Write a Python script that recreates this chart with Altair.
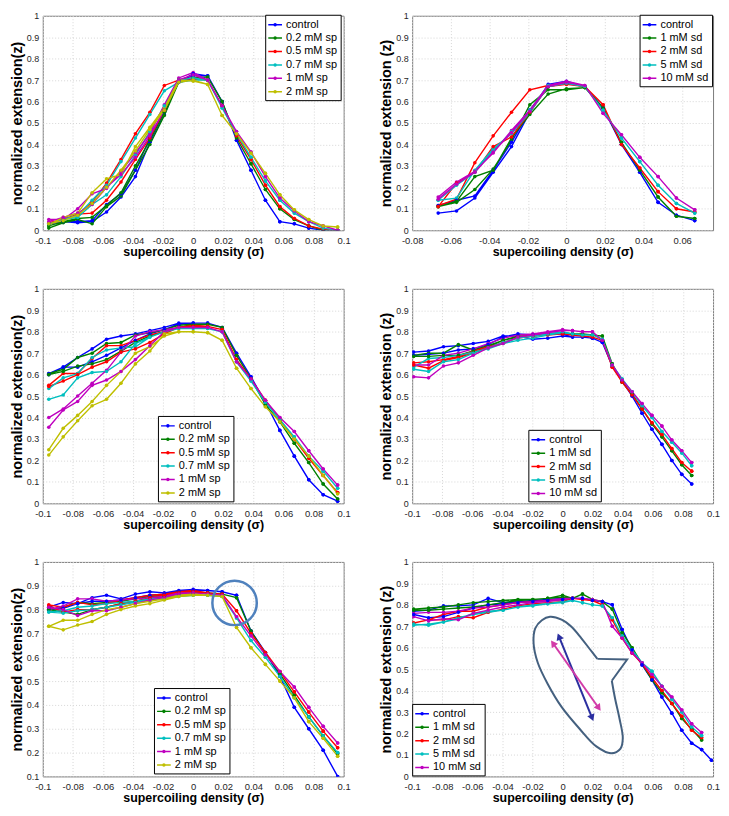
import math
import altair as alt
import pandas as pd

FONT = "Liberation Sans"
W, H = 303, 216

# ---------------- x grids (supercoiling density) ----------------
SIG_A = [-0.096, -0.0864, -0.0768, -0.0672, -0.0576, -0.048, -0.0384, -0.0288, -0.0192, -0.0096, 0.0,
         0.0096, 0.0192, 0.0288, 0.0384, 0.048, 0.0576, 0.0672, 0.0768, 0.0864, 0.096]
SIG_B = [-0.0665, -0.057, -0.0475, -0.038, -0.0285, -0.019, -0.0095, 0.0,
         0.0095, 0.019, 0.0285, 0.038, 0.0475, 0.057, 0.0665]
SIG_C = [-0.099, -0.0891, -0.0792, -0.0693, -0.0594, -0.0495, -0.0396, -0.0297, -0.0198, -0.0099, 0.0,
         0.0066, 0.0132, 0.0198, 0.0264, 0.033, 0.0396, 0.0462, 0.0528, 0.0594, 0.066, 0.0726,
         0.0792, 0.0858, 0.0924, 0.099]

SP_NAMES = ["control", "0.2 mM sp", "0.5 mM sp", "0.7 mM sp", "1 mM sp", "2 mM sp"]
SD_NAMES = ["control", "1 mM sd", "2 mM sd", "5 mM sd", "10 mM sd"]
SP_COLORS = ["#0000FF", "#008000", "#FF0000", "#00BFBF", "#BF00BF", "#BFBF00"]
SD_COLORS = ["#0000FF", "#008000", "#FF0000", "#00BFBF", "#BF00BF"]

X_TICKS_FULL = [-0.1, -0.08, -0.06, -0.04, -0.02, 0, 0.02, 0.04, 0.06, 0.08, 0.1]
X_TICKS_P2 = [-0.08, -0.06, -0.04, -0.02, 0, 0.02, 0.04, 0.06]
Y_TICKS = [0, 0.1, 0.2, 0.3, 0.4, 0.5, 0.6, 0.7, 0.8, 0.9, 1]
Y_TICKS_P5 = [0.1, 0.2, 0.3, 0.4, 0.5, 0.6, 0.7, 0.8, 0.9, 1]

# ---------------- panel 1 (spermine, low force) ----------------
P1_UP = [
    [0.03, 0.04, 0.035, 0.04, 0.085, 0.155, 0.25, 0.41, 0.54, 0.70, 0.72, 0.72, 0.60, 0.42, 0.28, 0.14, 0.04, 0.03, 0.01, 0.0, 0.0],
    [0.01, 0.035, 0.05, 0.03, 0.11, 0.16, 0.28, 0.40, 0.535, 0.69, 0.705, 0.715, 0.60, 0.43, 0.31, 0.19, 0.10, 0.05, 0.02, 0.0, 0.0],
    [0.03, 0.05, 0.07, 0.13, 0.22, 0.33, 0.45, 0.55, 0.675, 0.70, 0.71, 0.70, 0.58, 0.44, 0.33, 0.21, 0.11, 0.055, 0.02, 0.005, 0.0],
    [0.03, 0.05, 0.07, 0.14, 0.21, 0.32, 0.43, 0.54, 0.65, 0.69, 0.70, 0.70, 0.57, 0.45, 0.34, 0.23, 0.14, 0.08, 0.04, 0.01, 0.0],
    [0.05, 0.05, 0.10, 0.17, 0.195, 0.275, 0.36, 0.45, 0.585, 0.71, 0.735, 0.70, 0.58, 0.46, 0.365, 0.25, 0.15, 0.09, 0.04, 0.02, 0.0],
    [0.025, 0.06, 0.08, 0.175, 0.24, 0.26, 0.39, 0.48, 0.57, 0.70, 0.695, 0.68, 0.535, 0.45, 0.36, 0.265, 0.165, 0.095, 0.05, 0.02, 0.015],
]
P1_DN = [
    [0.03, 0.04, 0.04, 0.045, 0.12, 0.17, 0.28, 0.43, 0.56, 0.69, 0.73],
    [0.02, 0.04, 0.055, 0.06, 0.115, 0.175, 0.30, 0.42, 0.55, 0.70, 0.71],
    [0.035, 0.05, 0.075, 0.08, 0.14, 0.225, 0.33, 0.43, 0.56, 0.70, 0.705],
    [0.03, 0.05, 0.06, 0.12, 0.165, 0.25, 0.35, 0.46, 0.58, 0.70, 0.71],
    [0.04, 0.06, 0.08, 0.12, 0.20, 0.26, 0.34, 0.44, 0.56, 0.70, 0.725],
    [0.03, 0.045, 0.07, 0.125, 0.20, 0.28, 0.37, 0.47, 0.56, 0.69, 0.70],
]

# ---------------- panel 2 (spermidine, low force) ----------------
P2_UP = [
    [0.08, 0.09, 0.15, 0.27, 0.39, 0.55, 0.68, 0.695, 0.67, 0.57, 0.40, 0.27, 0.13, 0.07, 0.045],
    [0.11, 0.13, 0.19, 0.285, 0.42, 0.585, 0.655, 0.655, 0.665, 0.57, 0.41, 0.28, 0.155, 0.065, 0.055],
    [0.115, 0.145, 0.315, 0.44, 0.55, 0.655, 0.675, 0.685, 0.67, 0.585, 0.40, 0.29, 0.18, 0.10, 0.085],
    [0.14, 0.15, 0.28, 0.38, 0.45, 0.55, 0.67, 0.685, 0.67, 0.56, 0.43, 0.32, 0.21, 0.125, 0.08],
    [0.155, 0.225, 0.275, 0.36, 0.465, 0.56, 0.675, 0.695, 0.675, 0.545, 0.445, 0.34, 0.25, 0.15, 0.095],
]
P2_DN = [
    [0.115, 0.14, 0.16, 0.28, 0.41, 0.56, 0.67, 0.685],
    [0.11, 0.135, 0.25, 0.28, 0.43, 0.54, 0.635, 0.66],
    [0.11, 0.22, 0.27, 0.39, 0.435, 0.55, 0.67, 0.68],
    [0.14, 0.21, 0.27, 0.37, 0.46, 0.56, 0.675, 0.685],
    [0.145, 0.215, 0.27, 0.365, 0.455, 0.555, 0.67, 0.69],
]

# ---------------- panel 3 (spermine, medium force) ----------------
P3_UP = [
    [0.60, 0.635, 0.68, 0.72, 0.765, 0.78, 0.79, 0.805, 0.82, 0.84, 0.84, 0.84, 0.82, 0.70, 0.59, 0.47, 0.34, 0.22, 0.11, 0.04, 0.01],
    [0.605, 0.625, 0.68, 0.70, 0.745, 0.75, 0.785, 0.795, 0.81, 0.83, 0.835, 0.835, 0.82, 0.69, 0.58, 0.46, 0.38, 0.28, 0.19, 0.09, 0.02],
    [0.55, 0.605, 0.605, 0.675, 0.735, 0.735, 0.76, 0.785, 0.80, 0.82, 0.83, 0.825, 0.81, 0.67, 0.58, 0.48, 0.39, 0.30, 0.21, 0.13, 0.05],
    [0.535, 0.585, 0.605, 0.68, 0.715, 0.725, 0.73, 0.775, 0.80, 0.815, 0.82, 0.815, 0.80, 0.66, 0.57, 0.47, 0.39, 0.31, 0.22, 0.15, 0.07],
    [0.40, 0.44, 0.50, 0.56, 0.62, 0.705, 0.78, 0.80, 0.81, 0.82, 0.82, 0.82, 0.80, 0.66, 0.58, 0.48, 0.40, 0.335, 0.245, 0.16, 0.085],
    [0.25, 0.35, 0.41, 0.475, 0.55, 0.615, 0.70, 0.73, 0.78, 0.80, 0.80, 0.795, 0.76, 0.63, 0.535, 0.45, 0.38, 0.30, 0.22, 0.13, 0.045],
]
P3_DN = [
    [0.605, 0.635, 0.635, 0.66, 0.69, 0.725, 0.76, 0.79, 0.81, 0.835, 0.84],
    [0.60, 0.615, 0.64, 0.65, 0.67, 0.71, 0.75, 0.78, 0.80, 0.82, 0.83],
    [0.545, 0.57, 0.60, 0.635, 0.66, 0.705, 0.72, 0.75, 0.79, 0.82, 0.825],
    [0.485, 0.505, 0.585, 0.61, 0.615, 0.66, 0.745, 0.775, 0.80, 0.815, 0.815],
    [0.355, 0.435, 0.475, 0.55, 0.575, 0.615, 0.67, 0.735, 0.80, 0.82, 0.82],
    [0.225, 0.31, 0.385, 0.455, 0.485, 0.56, 0.65, 0.71, 0.79, 0.80, 0.80],
]

# ---------------- panel 4 (spermidine, medium force) ----------------
P4_UP = [
    [0.705, 0.71, 0.73, 0.735, 0.745, 0.755, 0.78, 0.78, 0.765, 0.77, 0.78, 0.775, 0.775, 0.77, 0.75, 0.64, 0.57, 0.50, 0.42, 0.345, 0.275, 0.20, 0.135, 0.09],
    [0.69, 0.70, 0.70, 0.74, 0.715, 0.735, 0.76, 0.78, 0.78, 0.79, 0.795, 0.79, 0.79, 0.785, 0.78, 0.65, 0.565, 0.51, 0.44, 0.37, 0.31, 0.245, 0.18, 0.13],
    [0.655, 0.66, 0.67, 0.685, 0.71, 0.73, 0.745, 0.775, 0.785, 0.79, 0.79, 0.785, 0.78, 0.775, 0.76, 0.635, 0.565, 0.505, 0.44, 0.375, 0.32, 0.255, 0.19, 0.15],
    [0.635, 0.675, 0.68, 0.69, 0.705, 0.72, 0.745, 0.76, 0.77, 0.785, 0.795, 0.79, 0.785, 0.785, 0.765, 0.645, 0.58, 0.52, 0.455, 0.40, 0.335, 0.285, 0.235, 0.175],
    [0.645, 0.645, 0.69, 0.70, 0.72, 0.745, 0.77, 0.785, 0.79, 0.80, 0.81, 0.805, 0.80, 0.80, 0.76, 0.645, 0.575, 0.52, 0.465, 0.41, 0.36, 0.295, 0.245, 0.19],
]
P4_DN = [
    [0.69, 0.695, 0.70, 0.715, 0.72, 0.74, 0.775, 0.79, 0.785, 0.79, 0.79],
    [0.685, 0.685, 0.69, 0.69, 0.71, 0.73, 0.76, 0.775, 0.78, 0.79, 0.795],
    [0.645, 0.63, 0.665, 0.68, 0.70, 0.725, 0.75, 0.77, 0.78, 0.785, 0.79],
    [0.625, 0.615, 0.66, 0.67, 0.70, 0.725, 0.75, 0.77, 0.78, 0.79, 0.80],
    [0.59, 0.585, 0.64, 0.655, 0.69, 0.725, 0.745, 0.775, 0.785, 0.795, 0.805],
]

# ---------------- panel 5 (spermine, high force) ----------------
P5_UP = [
    [0.81, 0.83, 0.825, 0.85, 0.86, 0.845, 0.865, 0.875, 0.87, 0.88, 0.885, 0.88, 0.875, 0.86, 0.71, 0.62, 0.52, 0.39, 0.30, 0.21, 0.10],
    [0.80, 0.81, 0.83, 0.825, 0.83, 0.835, 0.845, 0.855, 0.86, 0.875, 0.875, 0.87, 0.865, 0.85, 0.71, 0.615, 0.53, 0.44, 0.35, 0.27, 0.195],
    [0.82, 0.81, 0.83, 0.82, 0.825, 0.84, 0.85, 0.86, 0.865, 0.875, 0.88, 0.87, 0.865, 0.795, 0.70, 0.62, 0.54, 0.455, 0.37, 0.29, 0.22],
    [0.79, 0.795, 0.81, 0.815, 0.825, 0.83, 0.835, 0.845, 0.85, 0.86, 0.86, 0.86, 0.855, 0.765, 0.67, 0.60, 0.52, 0.43, 0.35, 0.27, 0.20],
    [0.80, 0.815, 0.845, 0.845, 0.835, 0.84, 0.845, 0.85, 0.855, 0.87, 0.87, 0.865, 0.86, 0.77, 0.69, 0.61, 0.54, 0.475, 0.39, 0.31, 0.24],
    [0.73, 0.755, 0.755, 0.78, 0.80, 0.81, 0.825, 0.835, 0.845, 0.86, 0.865, 0.86, 0.855, 0.725, 0.64, 0.57, 0.50, 0.43, 0.33, 0.26, 0.185],
]
P5_DN = [
    [0.80, 0.805, 0.825, 0.835, 0.835, 0.84, 0.85, 0.86, 0.865, 0.875, 0.88],
    [0.80, 0.79, 0.78, 0.80, 0.81, 0.825, 0.835, 0.845, 0.855, 0.865, 0.87],
    [0.815, 0.79, 0.80, 0.80, 0.81, 0.825, 0.835, 0.85, 0.86, 0.87, 0.875],
    [0.79, 0.785, 0.795, 0.80, 0.81, 0.82, 0.83, 0.84, 0.845, 0.855, 0.86],
    [0.81, 0.80, 0.775, 0.795, 0.795, 0.81, 0.825, 0.84, 0.85, 0.865, 0.87],
    [0.73, 0.715, 0.735, 0.75, 0.78, 0.80, 0.815, 0.825, 0.84, 0.855, 0.86],
]

# ---------------- panel 6 (spermidine, high force) ----------------
P6_UP = [
    [0.77, 0.775, 0.795, 0.795, 0.80, 0.83, 0.81, 0.815, 0.82, 0.825, 0.83, 0.83, 0.83, 0.82, 0.815, 0.80, 0.685, 0.59, 0.52, 0.45, 0.37, 0.295, 0.215, 0.155, 0.125, 0.075],
    [0.78, 0.785, 0.79, 0.80, 0.81, 0.815, 0.82, 0.825, 0.825, 0.83, 0.845, 0.83, 0.85, 0.825, 0.815, 0.78, 0.67, 0.60, 0.525, 0.45, 0.39, 0.34, 0.27, 0.22, 0.17],
    [0.715, 0.73, 0.755, 0.77, 0.77, 0.79, 0.80, 0.81, 0.815, 0.82, 0.825, 0.83, 0.825, 0.82, 0.80, 0.73, 0.645, 0.575, 0.525, 0.46, 0.40, 0.34, 0.28, 0.215, 0.18],
    [0.705, 0.71, 0.72, 0.74, 0.755, 0.765, 0.775, 0.79, 0.795, 0.805, 0.81, 0.82, 0.81, 0.80, 0.795, 0.74, 0.655, 0.59, 0.53, 0.49, 0.42, 0.36, 0.30, 0.23, 0.19],
    [0.76, 0.765, 0.765, 0.77, 0.785, 0.79, 0.80, 0.81, 0.815, 0.82, 0.83, 0.83, 0.83, 0.825, 0.815, 0.70, 0.645, 0.575, 0.53, 0.475, 0.42, 0.37, 0.31, 0.245, 0.205],
]
P6_DN = [
    [0.755, 0.74, 0.745, 0.765, 0.785, 0.80, 0.805, 0.81, 0.815, 0.82, 0.825],
    [0.775, 0.775, 0.78, 0.785, 0.79, 0.80, 0.81, 0.82, 0.825, 0.83, 0.835],
    [0.715, 0.73, 0.73, 0.745, 0.74, 0.765, 0.78, 0.795, 0.805, 0.81, 0.815],
    [0.71, 0.705, 0.72, 0.735, 0.76, 0.77, 0.775, 0.79, 0.80, 0.805, 0.815],
    [0.745, 0.725, 0.735, 0.73, 0.76, 0.775, 0.79, 0.80, 0.81, 0.815, 0.825],
]

# ---------------- annotations ----------------
CIRCLE5_X = [0.0275]
CIRCLE5_Y = [0.828]
BUBBLE_X = [0.0327, 0.0349, 0.0378, 0.0400, 0.0385, 0.0323, 0.0224, 0.0114, -0.0007, -0.0099,
            -0.0165, -0.0193, -0.0182, -0.0138, -0.0084, -0.0007, 0.0059, 0.0125, 0.0180, 0.0231]
BUBBLE_Y = [0.446, 0.362, 0.270, 0.179, 0.130, 0.108, 0.140, 0.221, 0.324, 0.431,
            0.530, 0.621, 0.690, 0.728, 0.744, 0.731, 0.698, 0.644, 0.594, 0.548]
TAIL_X = [0.0231, 0.0429, 0.0327]
TAIL_Y = [0.548, 0.545, 0.446]
ARROW_BLUE = [(-0.0024, 0.652), (0.0196, 0.273)]
ARROW_MAG = [(-0.0064, 0.621), (0.024, 0.319)]

# ---------------- helpers ----------------
LEG_PATH = "M-1.15,0H1.15M-0.17,0A0.17,0.17,0,1,0,0.17,0A0.17,0.17,0,1,0,-0.17,0"
XLABEL = "datum.value < 0 ? '-' + format(-datum.value, '~g') : format(datum.value, '~g')"


def loop_frame(xs, names, ups, downs):
    rows = []
    for name, a, b in zip(names, ups, downs):
        z = len(b) - 1
        n = len(a)
        path = [(xs[k], a[k]) for k in range(n)]
        path += [(xs[k], a[k]) for k in range(n - 1, z, -1)]
        path += [(xs[k], b[k]) for k in range(z, -1, -1)]
        for i, (x, y) in enumerate(path):
            rows.append({"s": name, "x": x, "y": y, "i": i})
    return pd.DataFrame(rows)


def xaxis(ticks):
    return alt.Axis(values=ticks, title="supercoiling density (σ)", labelExpr=XLABEL,
                    grid=True, ticks=False, domain=False, labelFlush=False, labelOverlap=False,
                    labelFontSize=9.5, labelPadding=5, titleFontSize=12.5, titlePadding=1)


def yaxis(ticks, title):
    return alt.Axis(values=ticks, title=title, format="~g", grid=True, ticks=False, domain=False,
                    labelFlush=False, labelOverlap=False, labelFontSize=9, labelPadding=4,
                    titleFontSize=14.5, titlePadding=2)


def enc_xy(xs, ys, xt, yt, ytitle):
    return dict(x=alt.X("x:Q", scale=xs, axis=xaxis(xt)),
                y=alt.Y("y:Q", scale=ys, axis=yaxis(yt, ytitle)))


def panel(df, names, colors, xdom, xt, ydom, yt, ytitle, lx, ly, extras=()):
    xs = alt.Scale(domain=xdom, nice=False, zero=False)
    ys = alt.Scale(domain=ydom, nice=False, zero=False)
    e = enc_xy(xs, ys, xt, yt, ytitle)
    base = alt.Chart(df).mark_line(
        strokeWidth=1.4, clip=True,
        point=alt.OverlayMarkDef(filled=True, size=13, clip=True),
    ).encode(
        color=alt.Color("s:N", scale=alt.Scale(domain=names, range=colors),
                        legend=alt.Legend(orient="none", legendX=lx, legendY=ly, title=None)),
        order=alt.Order("i:Q"),
        **e,
    )
    layers = [base] + [f(e, xdom, ydom) for f in extras]
    return alt.layer(*layers).properties(width=W, height=H)


def circle_layer(e, xdom, ydom):
    d = pd.DataFrame({"x": CIRCLE5_X, "y": CIRCLE5_Y})
    return alt.Chart(d).mark_point(shape="circle", filled=False, size=2000,
                                   stroke="#4F81BD", strokeWidth=2.5, opacity=1).encode(**e)


def bubble_layer(e, xdom, ydom):
    d = pd.DataFrame({"x": BUBBLE_X, "y": BUBBLE_Y, "i": list(range(len(BUBBLE_X)))})
    return alt.Chart(d).mark_line(interpolate="catmull-rom", color="#44607F", strokeWidth=2).encode(
        order=alt.Order("i:Q"), **e)


def tail_layer(e, xdom, ydom):
    d = pd.DataFrame({"x": TAIL_X, "y": TAIL_Y, "i": list(range(len(TAIL_X)))})
    return alt.Chart(d).mark_line(color="#44607F", strokeWidth=2, strokeJoin="miter").encode(
        order=alt.Order("i:Q"), **e)


def arrow_layers(pts, color):
    def line(e, xdom, ydom):
        d = pd.DataFrame({"x": [p[0] for p in pts], "y": [p[1] for p in pts], "i": [0, 1]})
        return alt.Chart(d).mark_line(color=color, strokeWidth=2).encode(order=alt.Order("i:Q"), **e)

    def heads(e, xdom, ydom):
        kx = W / (xdom[1] - xdom[0])
        ky = H / (ydom[1] - ydom[0])
        (x0, y0), (x1, y1) = pts
        dx = (x1 - x0) * kx
        dy = -(y1 - y0) * ky
        a_end = math.degrees(math.atan2(dx, -dy)) % 360
        a_start = (a_end + 180) % 360
        d = pd.DataFrame({"x": [x0, x1], "y": [y0, y1], "ang": [a_start, a_end]})
        return alt.Chart(d).mark_point(shape="triangle-up", filled=True, size=60, color=color,
                                       opacity=1, strokeWidth=0).encode(
            angle=alt.Angle("ang:Q", scale=None), **e)
    return [line, heads]


# ---------------- panels ----------------
p1 = panel(loop_frame(SIG_A, SP_NAMES, P1_UP, P1_DN), SP_NAMES, SP_COLORS,
           [-0.1, 0.1], X_TICKS_FULL, [0, 1], Y_TICKS, "normalized extension(z)", 224, -1)
p2 = panel(loop_frame(SIG_B, SD_NAMES, P2_UP, P2_DN), SD_NAMES, SD_COLORS,
           [-0.08, 0.076], X_TICKS_P2, [0, 1], Y_TICKS, "normalized extension (z)", 229, -1)
p3 = panel(loop_frame(SIG_A, SP_NAMES, P3_UP, P3_DN), SP_NAMES, SP_COLORS,
           [-0.1, 0.1], X_TICKS_FULL, [0, 1], Y_TICKS, "normalized extension(z)", 116, 128)
p4 = panel(loop_frame(SIG_C, SD_NAMES, P4_UP, P4_DN), SD_NAMES, SD_COLORS,
           [-0.1, 0.1], X_TICKS_FULL, [0, 1], Y_TICKS, "normalized extension (z)", 117, 142)
p5 = panel(loop_frame(SIG_A, SP_NAMES, P5_UP, P5_DN), SP_NAMES, SP_COLORS,
           [-0.1, 0.1], X_TICKS_FULL, [0.1, 1], Y_TICKS_P5, "normalized extension(z)", 112, 127,
           extras=[circle_layer])
p6 = panel(loop_frame(SIG_C, SD_NAMES, P6_UP, P6_DN), SD_NAMES, SD_COLORS,
           [-0.1, 0.1], X_TICKS_FULL, [0, 1], Y_TICKS, "normalized extension (z)", 0, 143,
           extras=[bubble_layer, tail_layer] + arrow_layers(ARROW_BLUE, "#2B2FA0")
           + arrow_layers(ARROW_MAG, "#D23BA8"))


def row(a, b):
    return alt.hconcat(a, b, spacing=26).resolve_scale(color="independent").resolve_legend(color="independent")


chart = alt.vconcat(row(p1, p2), row(p3, p4), row(p5, p6), spacing=25).resolve_scale(
    color="independent").resolve_legend(color="independent")

chart = chart.properties(
    padding={"left": 0, "right": 0, "top": 0, "bottom": 0}, background="white"
).configure_view(
    stroke="#7a7a7a", strokeWidth=1
).configure_axis(
    labelFont=FONT, titleFont=FONT, labelColor="#262626", titleColor="black",
    titleFontWeight="bold", gridColor="#d6d6d6", gridDash=[1, 2], gridWidth=1,
).configure_legend(
    labelFont=FONT, labelFontSize=11, labelColor="black", strokeColor="black",
    fillColor="white", padding=3, cornerRadius=0, symbolType=LEG_PATH, symbolSize=144,
    symbolStrokeWidth=1.5, rowPadding=1.5, labelOffset=4,
)

chart.save("out.html", embed_options={"renderer": "svg", "actions": False})
